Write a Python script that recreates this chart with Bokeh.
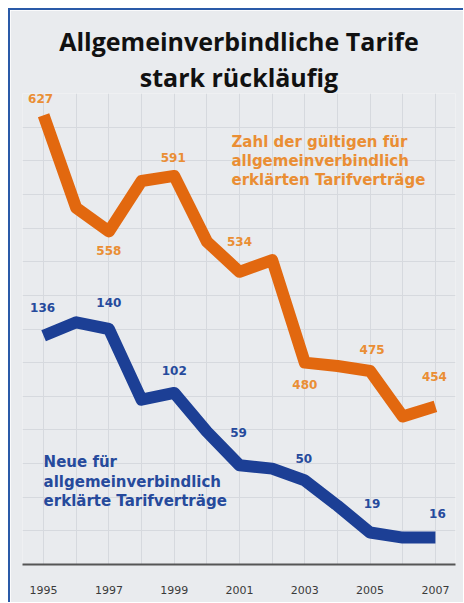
from bokeh.plotting import figure
from bokeh.models import Range1d, FixedTicker, Label, ColumnDataSource, Title
from bokeh.embed import file_html
from bokeh.resources import INLINE
from bokeh.core.properties import value

# ---- data ----
years = list(range(1995, 2008))
orange_values = [627, 572, 558, 588, 591, 552, 534, 541, 480, 478, 475, 448, 454]
blue_values = [136, 144, 140, 98, 102, 79, 59, 57, 50, 35, 19, 16, 16]
label_years = [1995, 1997, 1999, 2001, 2003, 2005, 2007]
orange_labels = [627, 558, 591, 534, 480, 475, 454]
blue_labels = [136, 140, 102, 59, 50, 19, 16]
tick_years = [1995, 1997, 1999, 2001, 2003, 2005, 2007]

# label pixel offsets (styling)
orange_dx = [-3, 0, -1, 0, 0, 2, -1]
orange_dy = [-17, 19, -18, -30, 22, -22, -30]
blue_dx = [-1, 0, 0, -1, -1, 2, 2]
blue_dy = [-28, -27, -22, -33, -22, -29, -24]

BG = "#e9ebee"
ORANGE = "#e2680f"
ORANGE_TXT = "#ea8e34"
BLUE = "#1c3f95"
BLUE_TXT = "#264a9c"

p = figure(width=453, height=592,
           x_range=Range1d(1994.354, 2007.615), y_range=Range1d(0, 280),
           output_backend="svg", toolbar_location=None, y_axis_location=None,
           min_border_left=12, min_border_right=10, min_border_top=83, min_border_bottom=40,
           background_fill_color=BG, border_fill_color=BG, outline_line_color=None,
           title=None)
p.extra_y_ranges = {"orange": Range1d(360, 640)}
p.styles = {"margin-left": "8px", "margin-top": "8px",
            "border-top": "2px solid #2a5aa8", "border-left": "2px solid #2a5aa8",
            "box-sizing": "content-box"}

title_lines = ["stark rückläufig", "Allgemeinverbindliche Tarife"]  # added bottom-up
for t in title_lines:
    p.add_layout(Title(text=t, align="center", text_font="Open Sans", text_font_style="bold",
                       text_font_size="25px", text_color="#111111", standoff=0), "above")

p.xgrid.ticker = FixedTicker(ticks=years)
p.ygrid.ticker = FixedTicker(ticks=list(range(20, 280, 20)))
p.xgrid.grid_line_color = "#d6d9de"
p.ygrid.grid_line_color = "#d6d9de"

p.xaxis.ticker = FixedTicker(ticks=tick_years)
p.xaxis.axis_line_color = "#555555"
p.xaxis.axis_line_width = 2
p.xaxis.major_tick_line_color = None
p.xaxis.minor_tick_line_color = None
p.xaxis.major_tick_out = 0
p.xaxis.major_tick_in = 0
p.xaxis.minor_tick_out = 0
p.xaxis.major_label_standoff = 21
p.xaxis.major_label_text_font = "DejaVu Sans"
p.xaxis.major_label_text_font_size = "11px"
p.xaxis.major_label_text_color = "#3a3a3a"

p.line(years, blue_values, line_width=12, line_color=BLUE, line_join="round")
p.line(years, orange_values, y_range_name="orange", line_width=12, line_color=ORANGE, line_join="round")

o_src = ColumnDataSource(dict(x=label_years, y=orange_labels, t=[str(v) for v in orange_labels],
                              dx=orange_dx, dy=orange_dy))
b_src = ColumnDataSource(dict(x=label_years, y=blue_labels, t=[str(v) for v in blue_labels],
                              dx=blue_dx, dy=blue_dy))
p.text(x="x", y="y", text="t", x_offset="dx", y_offset="dy", source=o_src, y_range_name="orange",
       text_align="center", text_baseline="middle", text_font=value("DejaVu Sans"),
       text_font_style="bold", text_font_size="12px", text_color=ORANGE_TXT)
p.text(x="x", y="y", text="t", x_offset="dx", y_offset="dy", source=b_src,
       text_align="center", text_baseline="middle", text_font=value("DejaVu Sans"),
       text_font_style="bold", text_font_size="12px", text_color=BLUE_TXT)

orange_lines = ["Zahl der gültigen für", "allgemeinverbindlich", "erklärten Tarifverträge"]
for line, yv in zip(orange_lines, [251.3, 240.0, 228.7]):
    p.add_layout(Label(x=2000.754, y=yv, text=line, text_align="left", text_baseline="middle",
                       text_font="DejaVu Sans", text_font_style="bold", text_font_size="15px",
                       text_color=ORANGE_TXT))
blue_lines = ["Neue für", "allgemeinverbindlich", "erklärte Tarifverträge"]
for line, yv in zip(blue_lines, [60.9, 49.0, 37.6]):
    p.add_layout(Label(x=1995.0, y=yv, text=line, text_align="left", text_baseline="middle",
                       text_font="DejaVu Sans", text_font_style="bold", text_font_size="15px",
                       text_color=BLUE_TXT))

open("out.html", "w").write(file_html(p, INLINE))
